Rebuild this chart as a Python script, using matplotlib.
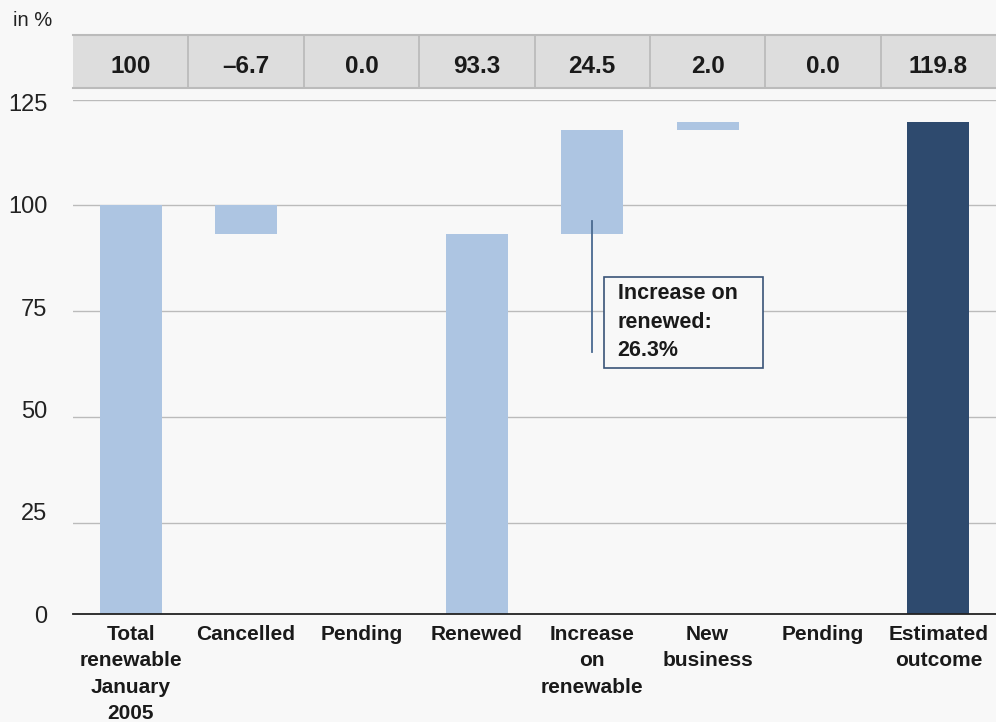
import matplotlib
matplotlib.use("Agg")
import matplotlib.pyplot as plt
from matplotlib.patches import Rectangle
import numpy as np

plt.rcParams['font.family'] = ['Liberation Sans', 'DejaVu Sans']

categories = ["Total\nrenewable\nJanuary\n2005", "Cancelled", "Pending", "Renewed",
              "Increase\non\nrenewable", "New\nbusiness", "Pending", "Estimated\noutcome"]
values = [100, -6.7, 0.0, 93.3, 24.5, 2.0, 0.0, 119.8]
is_total = [True, False, False, True, False, False, False, True]
header_labels = ["100", "\u20136.7", "0.0", "93.3", "24.5", "2.0", "0.0", "119.8"]
y_ticks = [0, 25, 50, 75, 100, 125]
annotation_text = "Increase on\nrenewed:\n26.3%"

light = "#adc5e2"
dark = "#2e4a6e"
bg = "#f8f8f8"

# waterfall geometry from the data
bottoms, heights, colors = [], [], []
running = 0.0
for i, (v, tot) in enumerate(zip(values, is_total)):
    if tot:
        bottoms.append(0.0)
        heights.append(v)
        running = v
        colors.append(dark if i == len(values) - 1 else light)
    else:
        new = running + v
        bottoms.append(min(running, new))
        heights.append(abs(v))
        running = new
        colors.append(light)

YMIN, YMAX = 4.2, 125

fig = plt.figure(figsize=(9.96, 7.22), dpi=100, facecolor=bg)
ax = fig.add_axes([73/996, 1-614.3/722, 923/996, (614.3-99.7)/722], facecolor=bg)
x = np.arange(len(categories))
ax.bar(x, heights, bottom=bottoms, width=0.537, color=colors, zorder=3)
ax.set_xlim(-0.5, len(categories) - 0.5)
ax.set_ylim(YMIN, YMAX)

# gridlines at the tick values (above the axis floor)
for t in y_ticks:
    if t > YMIN:
        ax.axhline(t, color="#bbbbbb", linewidth=1, zorder=0)

# labels spread evenly along the axis, as in the reference
label_pos = np.linspace(YMIN - 0.8, YMAX - 0.6, len(y_ticks))
ax.set_yticks(label_pos)
ax.set_yticklabels([str(t) for t in y_ticks], fontsize=17, color="#222222")
ax.tick_params(axis='y', length=0, pad=18.5)
ax.tick_params(axis='x', length=0, pad=8)
ax.set_xticks(x)
ax.set_xticklabels(categories, fontsize=15, fontweight='bold', color="#1a1a1a", linespacing=1.47)
for s in ['top', 'right', 'left']:
    ax.spines[s].set_visible(False)
ax.spines['bottom'].set_color("#222222")
ax.spines['bottom'].set_linewidth(1.3)
ax.spines['bottom'].set_zorder(4)

# annotation
ax.plot([4.0, 4.0], [96.3, 65.3], color="#4a6a90", linewidth=1.3, zorder=4)
ax.add_patch(Rectangle((4.10, 61.6), 1.38, 21.5, facecolor=bg, edgecolor="#3a5478",
                       linewidth=1.2, zorder=5))
ax.text(4.22, 81.6, annotation_text, fontsize=15.5, fontweight='bold', color="#1a1a1a",
        va='top', ha='left', linespacing=1.45, zorder=6)

# header band
hax = fig.add_axes([73/996, 1-88/722, 923/996, 53/722], facecolor="#dddddd")
hax.set_xlim(-0.5, len(categories) - 0.5)
hax.set_ylim(0, 1)
hax.set_xticks([])
hax.set_yticks([])
for s in ['left', 'right']:
    hax.spines[s].set_visible(False)
for s in ['top', 'bottom']:
    hax.spines[s].set_color("#bbbbbb")
    hax.spines[s].set_linewidth(1.5)
for i in range(1, len(categories)):
    hax.axvline(i - 0.5, color="#bbbbbb", linewidth=1.3)
for i, lab in enumerate(header_labels):
    hax.text(i, 0.40, lab, ha='center', va='center', fontsize=17.5, fontweight='bold', color="#1a1a1a")

fig.text(13/996, 1-20/722, "in %", fontsize=14.5, va='center', ha='left', color="#222222")

fig.savefig("out.png", dpi=100, facecolor=bg)
